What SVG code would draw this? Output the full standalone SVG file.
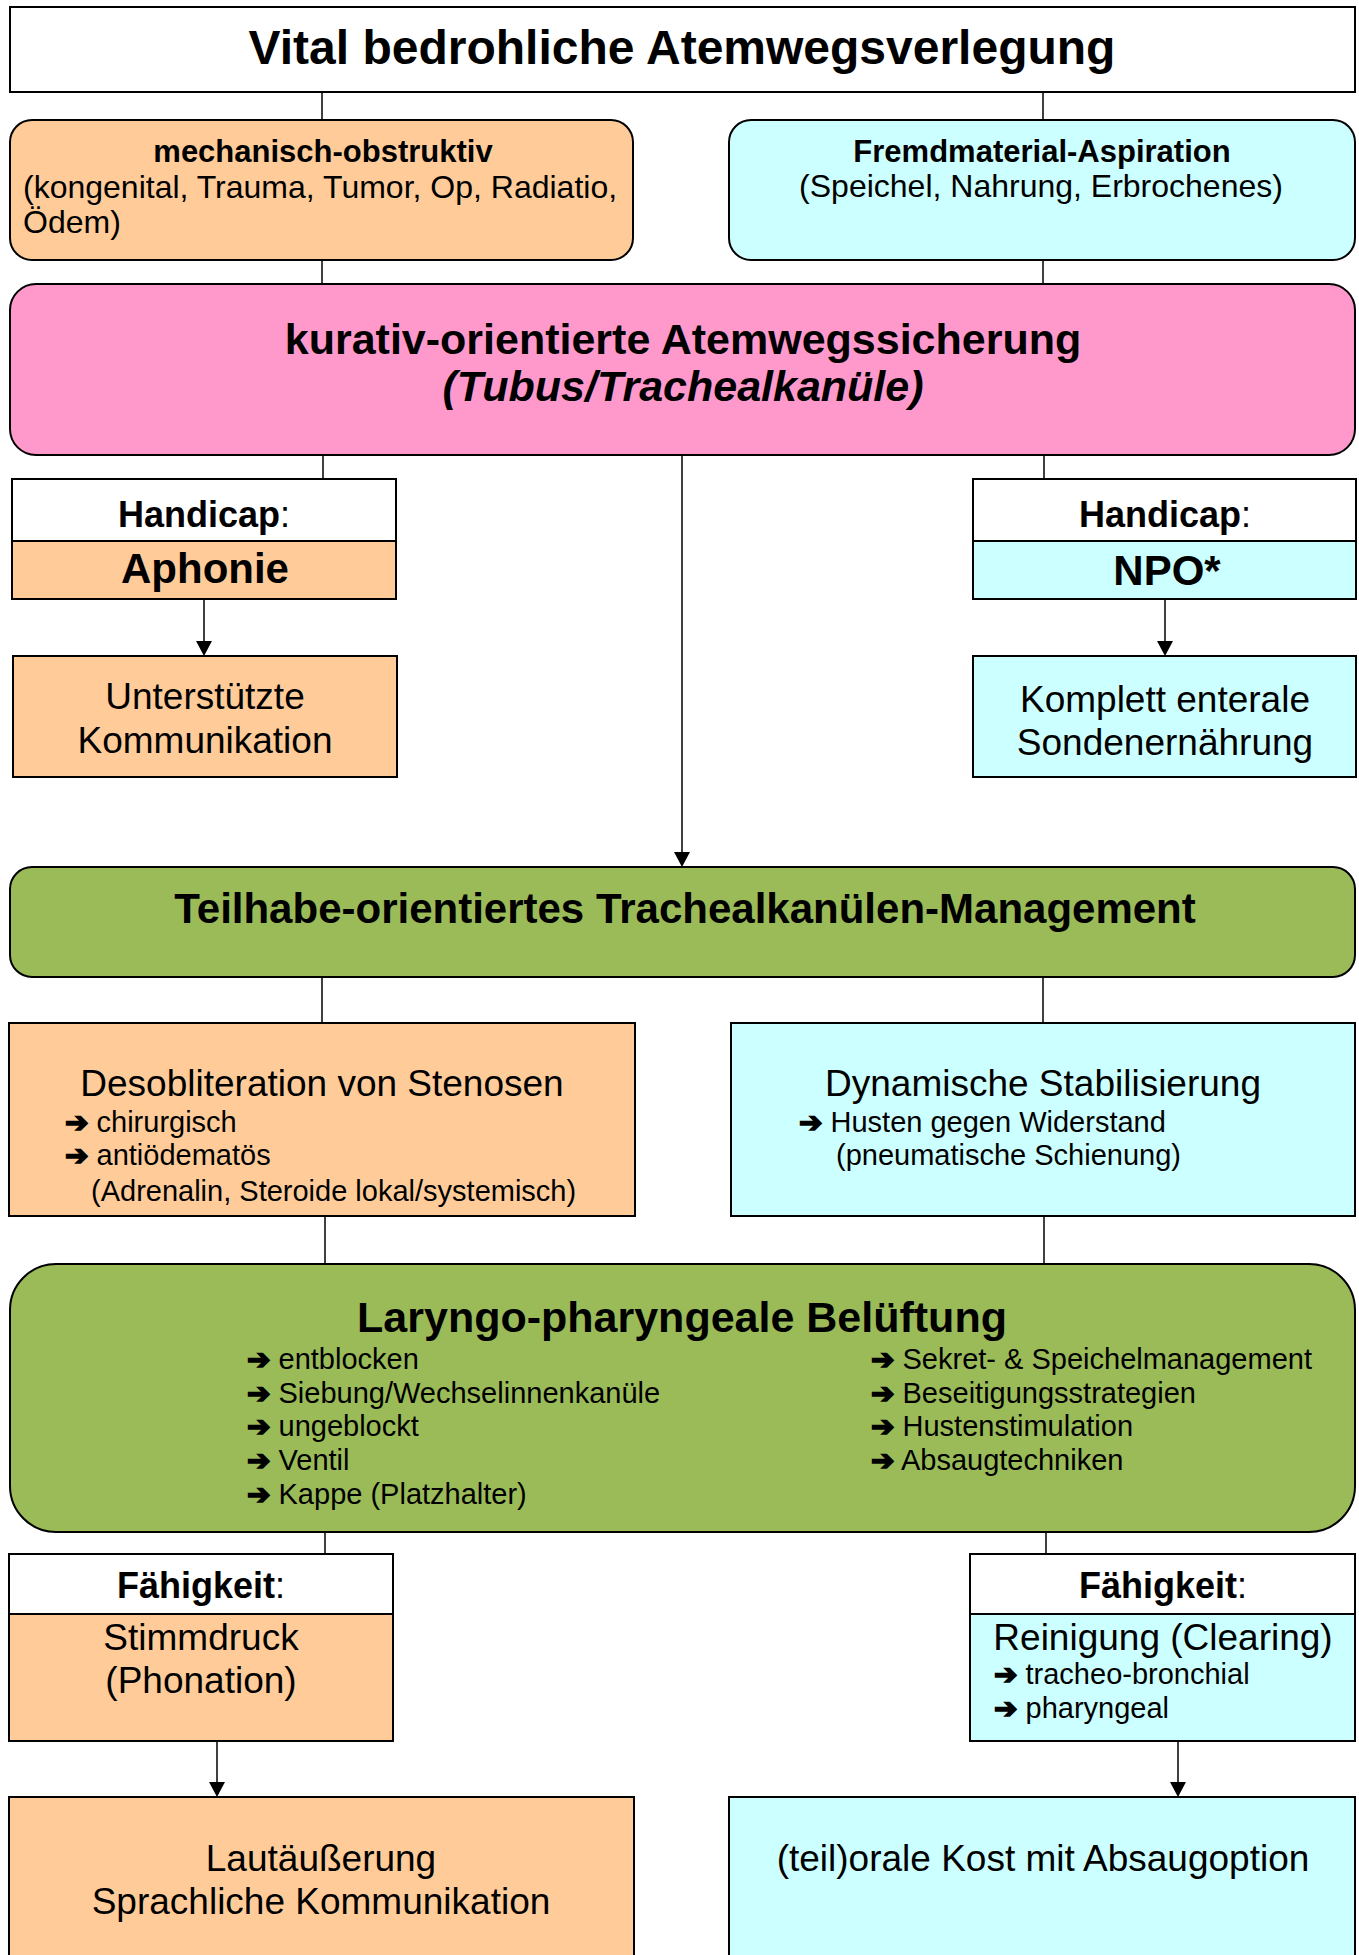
<svg xmlns="http://www.w3.org/2000/svg" width="1359" height="1955" viewBox="0 0 1359 1955">
<style>
.box{stroke:#000;stroke-width:2}
.w{fill:#fff}.o{fill:#FFCC99}.c{fill:#CCFFFF}.p{fill:#FF99CC}.g{fill:#9BBB59}
text{font-family:"Liberation Sans",Arial,sans-serif;fill:#000}
.b{font-weight:bold}
.mid{text-anchor:middle}
.ar{font-family:"DejaVu Sans",sans-serif;font-weight:bold;font-size:28px;stroke:#000;stroke-width:1.6}
.ln{stroke:#000;stroke-width:1.5;fill:none}
</style>

<g id="connectors">
<line class="ln" x1="322" y1="92" x2="322" y2="120"/>
<line class="ln" x1="1043" y1="92" x2="1043" y2="120"/>
<line class="ln" x1="322" y1="260" x2="322" y2="284"/>
<line class="ln" x1="1043" y1="260" x2="1043" y2="284"/>
<line class="ln" x1="323" y1="455" x2="323" y2="479"/>
<line class="ln" x1="1044" y1="455" x2="1044" y2="479"/>
<line class="ln" x1="682" y1="455" x2="682" y2="852"/>
<path d="M674,852 L690,852 L682,867 Z"/>
<line class="ln" x1="204" y1="599" x2="204" y2="641"/>
<path d="M196,641 L212,641 L204,656 Z"/>
<line class="ln" x1="1165" y1="599" x2="1165" y2="641"/>
<path d="M1157,641 L1173,641 L1165,656 Z"/>
<line class="ln" x1="322" y1="977" x2="322" y2="1023"/>
<line class="ln" x1="1043" y1="977" x2="1043" y2="1023"/>
<line class="ln" x1="325" y1="1216" x2="325" y2="1264"/>
<line class="ln" x1="1044" y1="1216" x2="1044" y2="1264"/>
<line class="ln" x1="325" y1="1532" x2="325" y2="1554"/>
<line class="ln" x1="1046" y1="1532" x2="1046" y2="1554"/>
<line class="ln" x1="217" y1="1741" x2="217" y2="1782"/>
<path d="M209,1782 L225,1782 L217,1797 Z"/>
<line class="ln" x1="1178" y1="1741" x2="1178" y2="1782"/>
<path d="M1170,1782 L1186,1782 L1178,1797 Z"/>
</g>

<g id="n-top">
<rect class="box w" x="10" y="7" width="1345" height="85"/>
<text class="b mid" x="682" y="64" font-size="48">Vital bedrohliche Atemwegsverlegung</text>
</g>

<g id="n-mech">
<rect class="box o" x="10" y="120" width="623" height="140" rx="22"/>
<text class="b mid" x="323" y="162" font-size="31">mechanisch-obstruktiv</text>
<text x="23" y="198" font-size="32">(kongenital, Trauma, Tumor, Op, Radiatio,</text>
<text x="23" y="233" font-size="32">Ödem)</text>
</g>

<g id="n-fremd">
<rect class="box c" x="729" y="120" width="626" height="140" rx="22"/>
<text class="b mid" x="1042" y="162" font-size="31">Fremdmaterial-Aspiration</text>
<text class="mid" x="1041" y="197" font-size="32">(Speichel, Nahrung, Erbrochenes)</text>
</g>

<g id="n-kurativ">
<rect class="box p" x="10" y="284" width="1345" height="171" rx="26"/>
<text class="b mid" x="683" y="354" font-size="43">kurativ-orientierte Atemwegssicherung</text>
<text class="b mid" x="683" y="401" font-size="43" font-style="italic">(Tubus/Trachealkanüle)</text>
</g>

<g id="n-handicap-l">
<rect class="box w" x="12" y="479" width="384" height="62"/>
<rect class="box o" x="12" y="541" width="384" height="58"/>
<text class="mid" x="204" y="527" font-size="36"><tspan class="b">Handicap</tspan>:</text>
<text class="b mid" x="205" y="583" font-size="42">Aphonie</text>
</g>

<g id="n-handicap-r">
<rect class="box w" x="973" y="479" width="383" height="62"/>
<rect class="box c" x="973" y="541" width="383" height="58"/>
<text class="mid" x="1165" y="527" font-size="36"><tspan class="b">Handicap</tspan>:</text>
<text class="b mid" x="1167" y="585" font-size="42">NPO*</text>
</g>

<g id="n-unterst">
<rect class="box o" x="13" y="656" width="384" height="121"/>
<text class="mid" x="205" y="709" font-size="37">Unterstützte</text>
<text class="mid" x="205" y="753" font-size="37">Kommunikation</text>
</g>

<g id="n-komplett">
<rect class="box c" x="973" y="656" width="383" height="121"/>
<text class="mid" x="1165" y="712" font-size="37">Komplett enterale</text>
<text class="mid" x="1165" y="755" font-size="37">Sondenernährung</text>
</g>

<g id="n-teilhabe">
<rect class="box g" x="10" y="867" width="1345" height="110" rx="22"/>
<text class="b mid" x="685" y="923" font-size="42">Teilhabe-orientiertes Trachealkanülen-Management</text>
</g>

<g id="n-desob">
<rect class="box o" x="9" y="1023" width="626" height="193"/>
<text class="mid" x="322" y="1096" font-size="37">Desobliteration von Stenosen</text>
<text x="65" y="1132" font-size="29"><tspan class="ar">➔</tspan> chirurgisch</text>
<text x="65" y="1165" font-size="29"><tspan class="ar">➔</tspan> antiödematös</text>
<text x="91" y="1201" font-size="29">(Adrenalin, Steroide lokal/systemisch)</text>
</g>

<g id="n-dynam">
<rect class="box c" x="731" y="1023" width="624" height="193"/>
<text class="mid" x="1043" y="1096" font-size="37">Dynamische Stabilisierung</text>
<text x="799" y="1132" font-size="29"><tspan class="ar">➔</tspan> Husten gegen Widerstand</text>
<text x="836" y="1165" font-size="29">(pneumatische Schienung)</text>
</g>

<g id="n-laryngo">
<rect class="box g" x="10" y="1264" width="1345" height="268" rx="46"/>
<text class="b mid" x="682" y="1332" font-size="43">Laryngo-pharyngeale Belüftung</text>
<text x="247" y="1369" font-size="29"><tspan class="ar">➔</tspan> entblocken</text>
<text x="247" y="1403" font-size="29"><tspan class="ar">➔</tspan> Siebung/Wechselinnenkanüle</text>
<text x="247" y="1436" font-size="29"><tspan class="ar">➔</tspan> ungeblockt</text>
<text x="247" y="1470" font-size="29"><tspan class="ar">➔</tspan> Ventil</text>
<text x="247" y="1504" font-size="29"><tspan class="ar">➔</tspan> Kappe (Platzhalter)</text>
<text x="871" y="1369" font-size="29"><tspan class="ar">➔</tspan> Sekret- &amp; Speichelmanagement</text>
<text x="871" y="1403" font-size="29"><tspan class="ar">➔</tspan> Beseitigungsstrategien</text>
<text x="871" y="1436" font-size="29"><tspan class="ar">➔</tspan> Hustenstimulation</text>
<text x="871" y="1470" font-size="29"><tspan class="ar">➔</tspan> Absaugtechniken</text>
</g>

<g id="n-faehig-l">
<rect class="box w" x="9" y="1554" width="384" height="60"/>
<rect class="box o" x="9" y="1614" width="384" height="127"/>
<text class="mid" x="201" y="1598" font-size="36"><tspan class="b">Fähigkeit</tspan>:</text>
<text class="mid" x="201" y="1650" font-size="37">Stimmdruck</text>
<text class="mid" x="201" y="1693" font-size="37">(Phonation)</text>
</g>

<g id="n-faehig-r">
<rect class="box w" x="970" y="1554" width="385" height="60"/>
<rect class="box c" x="970" y="1614" width="385" height="127"/>
<text class="mid" x="1163" y="1598" font-size="36"><tspan class="b">Fähigkeit</tspan>:</text>
<text class="mid" x="1163" y="1650" font-size="37">Reinigung (Clearing)</text>
<text x="994" y="1684" font-size="29"><tspan class="ar">➔</tspan> tracheo-bronchial</text>
<text x="994" y="1718" font-size="29"><tspan class="ar">➔</tspan> pharyngeal</text>
</g>

<g id="n-laut">
<rect class="box o" x="9" y="1797" width="625" height="170"/>
<text class="mid" x="321" y="1871" font-size="37">Lautäußerung</text>
<text class="mid" x="321" y="1914" font-size="37">Sprachliche Kommunikation</text>
</g>

<g id="n-kost">
<rect class="box c" x="729" y="1797" width="626" height="170"/>
<text class="mid" x="1043" y="1871" font-size="37">(teil)orale Kost mit Absaugoption</text>
</g>
</svg>
